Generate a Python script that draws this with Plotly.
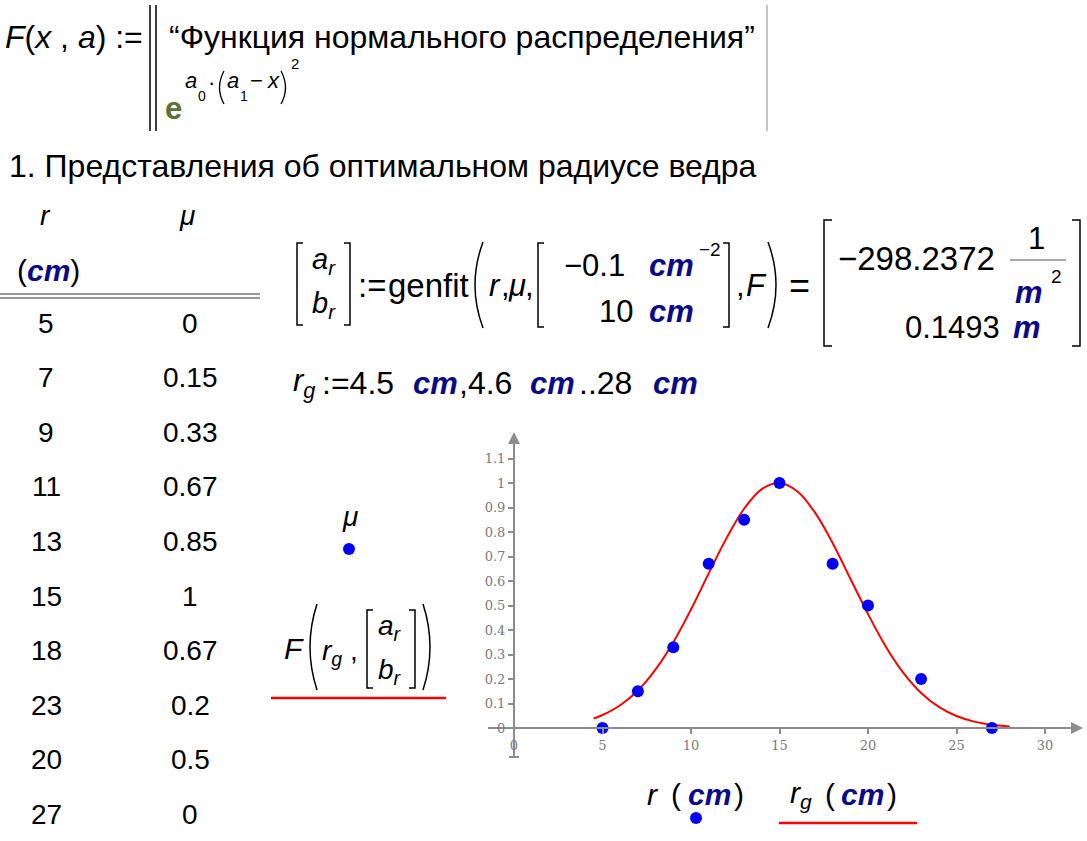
import plotly.graph_objects as go

# ---------------- data ----------------
r_cm = [5, 7, 9, 11, 13, 15, 18, 23, 20, 27]
mu = [0, 0.15, 0.33, 0.67, 0.85, 1, 0.67, 0.2, 0.5, 0]

# fitted curve F(r_g)
curve_x = [4.5, 5, 6, 7, 8, 9, 10, 11, 12, 13, 14, 15, 16, 17, 18, 19, 20,
           21, 22, 23, 24, 25, 26, 27, 28]
curve_y = [0.039, 0.053, 0.093, 0.153, 0.239, 0.350, 0.484, 0.631, 0.774,
           0.895, 0.975, 1.000, 0.966, 0.880, 0.755, 0.610, 0.465, 0.333,
           0.225, 0.143, 0.086, 0.049, 0.026, 0.013, 0.006]

x_tick_vals = [0, 5, 10, 15, 20, 25, 30]
x_tick_text = ["0", "5", "10", "15", "20", "25", "30"]
y_tick_vals = [0, 0.1, 0.2, 0.3, 0.4, 0.5, 0.6, 0.7, 0.8, 0.9, 1.0, 1.1]
y_tick_text = ["0", "0.1", "0.2", "0.3", "0.4", "0.5", "0.6", "0.7", "0.8",
               "0.9", "1", "1.1"]

fit_a_text = "−298.2372"
fit_b_text = "0.1493"
guess_a_text = "−0.1"
guess_b_text = "10"
title_text = "1. Представления об оптимальном радиусе ведра"
func_text = "“Функция нормального распределения”"

# ---------------- layout helpers ----------------
W, H = 1087, 841
FONT = "Liberation Sans, Arial, sans-serif"
NAVY = "#0b0b88"
GRAY = "#8c8c8c"


def px(x):
    return x / W


def py(y):
    return 1 - y / H


annotations = []
shapes = []


def text(s, x, y, size=28, xanchor="left", color="black", family=FONT):
    annotations.append(dict(text=s, x=px(x), y=py(y), xref="paper", yref="paper",
                            showarrow=False, xanchor=xanchor, yanchor="middle",
                            borderpad=0,
                            font=dict(size=size, color=color, family=family)))


def path(cmds, color="black", width=1.5):
    parts = []
    for c in cmds:
        op = c[0]
        pts = c[1:]
        parts.append(op + " " + " ".join(f"{px(pts[i]):.5f},{py(pts[i+1]):.5f}"
                                          for i in range(0, len(pts), 2)))
    shapes.append(dict(type="path", path=" ".join(parts), xref="paper", yref="paper",
                       line=dict(color=color, width=width)))


def line(x0, y0, x1, y1, color="black", width=1.5):
    shapes.append(dict(type="line", x0=px(x0), y0=py(y0), x1=px(x1), y1=py(y1),
                       xref="paper", yref="paper", line=dict(color=color, width=width)))


def lbr(x, y0, y1, w=6):
    path([("M", x + w, y0), ("L", x, y0), ("L", x, y1), ("L", x + w, y1)])


def rbr(x, y0, y1, w=6):
    path([("M", x - w, y0), ("L", x, y0), ("L", x, y1), ("L", x - w, y1)])


def paren(x, y0, y1, bulge, width=1.5):
    path([("M", x, y0), ("Q", x + bulge, (y0 + y1) / 2, x, y1)], width=width)


def dot(x, y, r=6, color="#0000ff"):
    shapes.append(dict(type="circle", x0=px(x - r), x1=px(x + r), y0=py(y - r), y1=py(y + r),
                       xref="paper", yref="paper", fillcolor=color, line=dict(width=0)))


def unit(u):
    return f"<b><i><span style='color:{NAVY}'>{u}</span></i></b>"


CM = unit("cm")
M = unit("m")

# ---------------- top: function definition ----------------
text("<i>F</i>(<i>x</i> , <i>a</i>) :=", 4, 37, size=32)
line(150, 5, 150, 131, width=1.5)
line(156, 5, 156, 131, width=1.5)
line(767, 5, 767, 131, color="#b0b0b0", width=1.5)
text(func_text, 168, 37, size=32)
text("<b>e</b>", 164, 109, size=31, color="#5b7233")
# exponent a0 · (a1 − x)^2
text("<i>a</i>", 184, 81, size=22)
text("0", 197, 96, size=14)
text("·", 207, 82, size=22)
paren(224, 71, 104, -9, width=1.3)
text("<i>a</i>", 226, 81, size=22)
text("1", 239, 96, size=14)
text("−", 249, 81, size=22)
text("<i>x</i>", 266, 81, size=22)
paren(281, 71, 104, 9, width=1.3)
text("2", 290, 63, size=15)

# section title
text(title_text, 8, 166, size=32)

# ---------------- table ----------------
text("<i>r</i>", 45, 215, xanchor="center")
text("<i>μ</i>", 187, 215, xanchor="center")
text("(" + CM + ")", 48, 270, size=30, xanchor="center")
line(0, 294, 260, 294, color="#333", width=1)
line(0, 298, 260, 298, color="#333", width=1)
for i, (rv, mv) in enumerate(zip(r_cm, mu)):
    yy = 323 + i * 54.6
    text(str(rv), 46, yy, xanchor="center")
    text(f"{mv:g}", 190, yy, xanchor="center")

# ---------------- genfit equation ----------------
EQ = 31
YM = 285           # main line of the equation
lbr(297, YM - 42, YM + 40)
text("<i>a<sub>r</sub></i>", 311, YM - 24, size=29)
text("<i>b<sub>r</sub></i>", 311, YM + 20, size=29)
rbr(350, YM - 42, YM + 40)
text(":=", 357, YM, size=33)
text("genfit", 387, YM, size=33)
paren(483, YM - 43, YM + 43, -16)
text("<i>r</i>", 488, YM, size=EQ)
text(",", 500, YM, size=EQ)
text("<i>μ</i>", 507, YM, size=EQ)
text(",", 524, YM, size=EQ)
lbr(538, YM - 42, YM + 42)
text(guess_a_text, 563, YM - 19, size=EQ)
text(CM, 648, YM - 19, size=EQ)
text("−2", 698, YM - 36, size=19)
text(guess_b_text, 598, YM + 26, size=EQ)
text(CM, 648, YM + 26, size=EQ)
rbr(729, YM - 42, YM + 42)
text(",", 735, YM, size=EQ)
text("<i>F</i>", 745, YM, size=EQ)
paren(768, YM - 43, YM + 43, 16)
text("=", 788, YM, size=36)
lbr(824, 220, 346, w=8)
text(fit_a_text, 837, 258, size=33)
text("1", 1036, 239, xanchor="center", size=EQ)
line(1010, 260, 1066, 260, color="#555", width=1)
text(M, 1029, 293, xanchor="center", size=EQ)
text("2", 1050, 277, size=19)
text(fit_b_text, 1001, 327, xanchor="right", size=EQ)
text(M, 1012, 327, size=EQ)
rbr(1080, 220, 346, w=8)

# r_g definition
text("<i>r<sub>g</sub></i>", 292, 383, size=EQ)
text(":=4.5", 321, 383, size=32)
text(CM, 412, 383, size=EQ)
text(",4.6", 458, 383, size=32)
text(CM, 529, 383, size=EQ)
text("..28", 578, 383, size=32)
text(CM, 652, 383, size=EQ)

# ---------------- legend (left) ----------------
text("<i>μ</i>", 350, 516, xanchor="center")
dot(349, 549)
text("<i>F</i>", 283, 648, size=30)
paren(317, 604, 690, -14)
text("<i>r<sub>g</sub></i> ,", 321, 652)
lbr(367, 610, 688)
text("<i>a<sub>r</sub></i>", 377, 627)
text("<i>b<sub>r</sub></i>", 377, 671)
rbr(415, 610, 688)
paren(423, 604, 690, 14)
line(271, 698, 446, 698, color="#ff0000", width=2.5)

# ---------------- axis titles (bottom) ----------------
text("<i>r</i>", 646, 794, size=30)
text("(", 670, 794, size=30)
text(CM, 687, 794, size=30)
text(")", 733, 794, size=30)
dot(696, 818)
text("<i>r<sub>g</sub></i>", 789, 794, size=30)
text("(", 824, 794, size=30)
text(CM, 840, 794, size=30)
text(")", 886, 794, size=30)
line(779, 823, 917, 823, color="#ff0000", width=2.5)

# ---------------- chart ----------------
X0_PX, X_SCALE = 514, 17.7     # pixel of x=0, pixels per unit
Y0_PX, Y_SCALE = 728, 245.0    # pixel of y=0, pixels per unit
xl, xr = 488, 1074
yb, yt = 757, 440
x_range = [(xl - X0_PX) / X_SCALE, (xr - X0_PX) / X_SCALE]
y_range = [(Y0_PX - yb) / Y_SCALE, (Y0_PX - yt) / Y_SCALE]

fig = go.Figure()
fig.add_trace(go.Scatter(x=curve_x, y=curve_y, mode="lines",
                         line=dict(color="#ff0000", width=2, shape="spline"),
                         showlegend=False, hoverinfo="skip"))
fig.add_trace(go.Scatter(x=r_cm, y=mu, mode="markers",
                         marker=dict(color="#0000ff", size=12),
                         showlegend=False, cliponaxis=False))

# axis arrowheads
annotations.append(dict(x=px(1083), y=py(Y0_PX), xref="paper", yref="paper",
                        ax=-14, ay=0, text="", showarrow=True, arrowhead=2,
                        arrowsize=1.2, arrowwidth=2, arrowcolor=GRAY))
annotations.append(dict(x=px(X0_PX), y=py(432), xref="paper", yref="paper",
                        ax=0, ay=14, text="", showarrow=True, arrowhead=2,
                        arrowsize=1.2, arrowwidth=2, arrowcolor=GRAY))
# small end cap on y axis
line(X0_PX - 5, yb, X0_PX + 5, yb, color=GRAY, width=2)

TICKFONT = dict(family="DejaVu Serif, Liberation Serif, serif", size=13, color="#7a7a7a")

fig.update_layout(
    width=W, height=H, autosize=False,
    margin=dict(l=0, r=0, t=0, b=0, pad=0),
    paper_bgcolor="white", plot_bgcolor="white",
    xaxis=dict(domain=[px(xl), px(xr)], range=x_range, anchor="free",
               position=py(Y0_PX), showgrid=False, zeroline=False,
               showline=True, linecolor=GRAY, linewidth=2,
               ticks="outside", ticklen=5, tickwidth=1.5, tickcolor=GRAY,
               tickvals=x_tick_vals, ticktext=x_tick_text, tickfont=TICKFONT),
    yaxis=dict(domain=[py(yb), py(yt)], range=y_range, anchor="free",
               position=px(X0_PX), showgrid=False, zeroline=False,
               showline=True, linecolor=GRAY, linewidth=2,
               ticks="outside", ticklen=5, tickwidth=1.5, tickcolor=GRAY,
               tickvals=y_tick_vals, ticktext=y_tick_text, tickfont=TICKFONT),
    annotations=annotations,
    shapes=shapes,
    showlegend=False,
)

fig.write_html("out.html")
